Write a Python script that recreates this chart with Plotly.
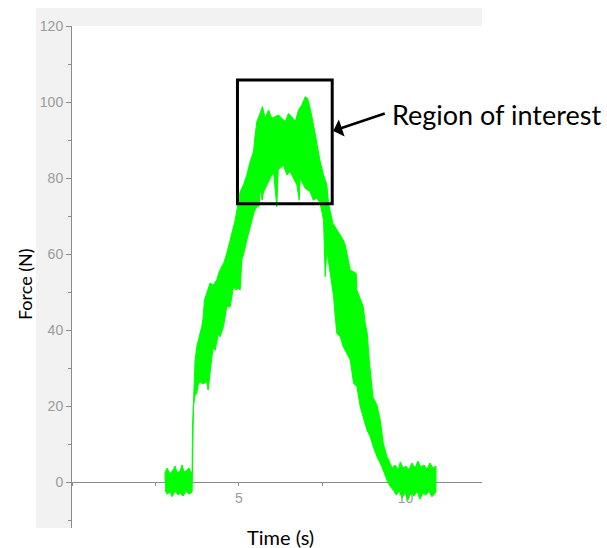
import plotly.graph_objects as go

# ---- data (time in s, force in N) ----
upper_t = [2.79, 2.79, 2.85, 2.94, 3.03, 3.09, 3.15, 3.24, 3.30, 3.36, 3.45, 3.51, 3.57, 3.60,
           3.61, 3.64, 3.67, 3.69, 3.74, 3.78, 3.84, 3.89, 3.93, 3.97, 4.04, 4.08, 4.14, 4.23,
           4.34, 4.41, 4.49, 4.56, 4.64, 4.71, 4.79, 4.83, 4.89, 4.96, 5.04, 5.14, 5.24, 5.34,
           5.44, 5.49, 5.54, 5.62, 5.71, 5.79, 5.89, 5.99, 6.09, 6.19, 6.29, 6.39, 6.49, 6.59,
           6.69, 6.79, 6.89, 6.99, 7.06, 7.14, 7.24, 7.34, 7.44, 7.54, 7.64, 7.69, 7.82, 8.13,
           8.19, 8.34, 8.52, 8.54, 8.73, 8.79, 8.85, 8.91, 8.97, 9.02, 9.14, 9.24, 9.33, 9.44,
           9.54, 9.60, 9.69, 9.78, 9.84, 9.93, 10.01, 10.10, 10.19, 10.28, 10.37, 10.46, 10.55,
           10.64, 10.73, 10.82, 10.91]
upper_f = [0.0, 2.6, 3.7, 2.1, 3.2, 4.2, 2.4, 2.9, 4.5, 2.6, 3.2, 3.7, 2.4, 2.6,
           13.7, 21.6, 29.5, 32.1, 35.6, 36.8, 39.2, 40.9, 43.2, 47.9, 49.7, 50.5, 52.4, 51.8,
           53.2, 55.3, 56.7, 57.9, 60.2, 62.4, 65.4, 66.8, 68.9, 72.4, 76.4, 78.2, 80.8, 84.3,
           86.9, 91.3, 94.8, 96.6, 98.8, 95.7, 97.9, 95.7, 96.1, 96.6, 95.7, 94.8, 97.0, 96.1,
           94.8, 97.9, 99.2, 101.4, 101.0, 98.3, 93.9, 88.7, 84.3, 80.8, 78.2, 73.3, 68.1, 63.7,
           62.4, 55.8, 54.9, 50.5, 46.1, 41.8, 39.1, 32.1, 26.0, 22.4, 20.3, 16.3, 10.2, 6.7,
           4.9, 3.7, 4.5, 3.2, 5.3, 3.7, 4.2, 3.2, 5.0, 3.7, 5.5, 3.9, 4.5,
           3.4, 5.0, 3.7, 4.2]

lower_t = [2.79, 2.85, 2.94, 3.00, 3.09, 3.18, 3.24, 3.33, 3.42, 3.51, 3.60,
           3.62, 3.64, 3.69, 3.74, 3.78, 3.84, 3.93, 4.04, 4.08, 4.14, 4.20, 4.24, 4.29, 4.39,
           4.44, 4.54, 4.64, 4.74, 4.84, 4.92, 4.98, 5.04, 5.09, 5.16, 5.24, 5.31, 5.39, 5.46,
           5.54, 5.61, 5.64, 5.70, 5.74, 5.84, 5.94, 6.04, 6.14, 6.18, 6.24, 6.34, 6.44, 6.54,
           6.64, 6.74, 6.81, 6.84, 6.99, 7.14, 7.23, 7.34, 7.44, 7.54, 7.59, 7.64, 7.74, 7.84,
           7.89, 7.94, 8.04, 8.13, 8.24, 8.34, 8.44, 8.54, 8.64, 8.73, 8.84, 8.94, 9.03, 9.14,
           9.29, 9.44, 9.54, 9.63, 9.72, 9.81, 9.90, 9.98, 10.07, 10.16, 10.25, 10.34, 10.43,
           10.52, 10.61, 10.70, 10.79, 10.91]
lower_f = [-2.1, -3.2, -2.6, -3.9, -2.4, -3.4, -2.9, -3.7, -2.4, -3.2, -2.6,
           11.1, 19.8, 22.9, 23.3, 25.5, 26.4, 25.8, 26.4, 24.2, 28.7, 33.4, 35.6, 34.7, 39.1,
           38.2, 40.9, 46.1, 46.1, 51.4, 50.5, 51.1, 50.5, 58.4, 60.5, 63.7, 66.3, 68.9, 71.1,
           72.4, 72.6, 77.4, 74.2, 76.3, 78.2, 79.9, 81.7, 72.4, 82.1, 82.6, 83.4, 80.8, 81.7,
           79.9, 78.2, 74.2, 79.9, 77.3, 76.4, 74.2, 74.7, 73.3, 68.9, 54.0, 61.1, 54.9, 48.8,
           43.5, 39.1, 38.2, 35.6, 33.9, 32.1, 26.0, 25.1, 19.8, 17.2, 13.7, 11.9, 9.3, 6.7,
           4.0, 0.5, -1.2, -2.1, -3.4, -2.4, -4.2, -2.6, -4.7, -2.9, -3.7, -2.4, -4.5,
           -2.9, -3.4, -2.4, -3.9, -2.6]

y_ticks = [0, 20, 40, 60, 80, 100, 120]
x_ticks = [5, 10]
x_range = [0, 12.29]
y_range = [-12.1, 120]

roi_t = [4.96, 7.80]
roi_f = [73.2, 105.8]
arrow_head = (7.83, 92.4)
arrow_tail = (9.42, 97.1)

GREEN = "#00ff00"
AXIS = "#8c8c8c"
TICKTXT = "#9a9a9a"

fig = go.Figure()
fig.add_trace(go.Scatter(
    x=upper_t + lower_t[::-1],
    y=upper_f + lower_f[::-1],
    mode="lines", fill="toself", fillcolor=GREEN,
    line=dict(color=GREEN, width=1), hoverinfo="skip", showlegend=False,
))

fig.update_layout(
    width=607, height=548,
    margin=dict(l=72, r=125, t=26, b=20, autoexpand=False),
    paper_bgcolor="white", plot_bgcolor="white",
    showlegend=False,
    font=dict(family="Arial, Liberation Sans, sans-serif"),
    xaxis=dict(
        range=x_range, anchor="free", position=(0 - y_range[0]) / (y_range[1] - y_range[0]),
        tickvals=x_ticks, ticks="outside", ticklen=3, tickcolor=AXIS,
        tickfont=dict(size=14, color=TICKTXT), showline=True, linecolor=AXIS, linewidth=1,
        showgrid=False, zeroline=False, layer="below traces",
        minor=dict(dtick=2.5, tick0=0, ticks="outside", ticklen=3, tickcolor=AXIS, showgrid=False),
    ),
    yaxis=dict(
        range=y_range, tickvals=y_ticks, ticks="outside", ticklen=5, tickcolor=AXIS,
        tickfont=dict(size=14, color=TICKTXT), showline=True, linecolor=AXIS, linewidth=1,
        showgrid=False, zeroline=False, layer="below traces",
        minor=dict(dtick=10, tick0=0, ticks="outside", ticklen=3, tickcolor=AXIS, showgrid=False),
    ),
    shapes=[
        dict(type="rect", xref="paper", yref="paper", x0=-0.0878, x1=1, y0=0, y1=1.0359,
             fillcolor="#f2f2f2", line=dict(width=0), layer="below"),
        dict(type="rect", xref="paper", yref="paper", x0=0, x1=1, y0=0, y1=1,
             fillcolor="white", line=dict(width=0), layer="below"),
        dict(type="rect", xref="x", yref="y", x0=roi_t[0], x1=roi_t[1], y0=roi_f[0], y1=roi_f[1],
             line=dict(color="black", width=3), fillcolor="rgba(0,0,0,0)", layer="above"),
    ],
    annotations=[
        dict(text="Force (N)", xref="paper", yref="paper", x=-0.1146, y=0.486, textangle=-90,
             xanchor="center", yanchor="middle",
             showarrow=False, font=dict(family="Lato", size=18, color="black")),
        dict(text="Time (s)", xref="paper", yref="paper", x=0.5085, y=-0.0173,
             xanchor="center", yanchor="middle",
             showarrow=False, font=dict(family="Lato", size=20, color="black")),
        dict(text="Region of interest", xref="paper", yref="paper", x=0.775, y=0.8247,
             xanchor="left", yanchor="middle", showarrow=False,
             font=dict(family="Lato", size=27, color="black")),
        dict(text="", x=arrow_head[0], y=arrow_head[1], xref="x", yref="y",
             ax=arrow_tail[0], ay=arrow_tail[1], axref="x", ayref="y",
             showarrow=True, arrowhead=1, arrowsize=1.2, arrowwidth=2.5, arrowcolor="black",
             standoff=0, startstandoff=0),
    ],
)

fig.write_html("out.html")
